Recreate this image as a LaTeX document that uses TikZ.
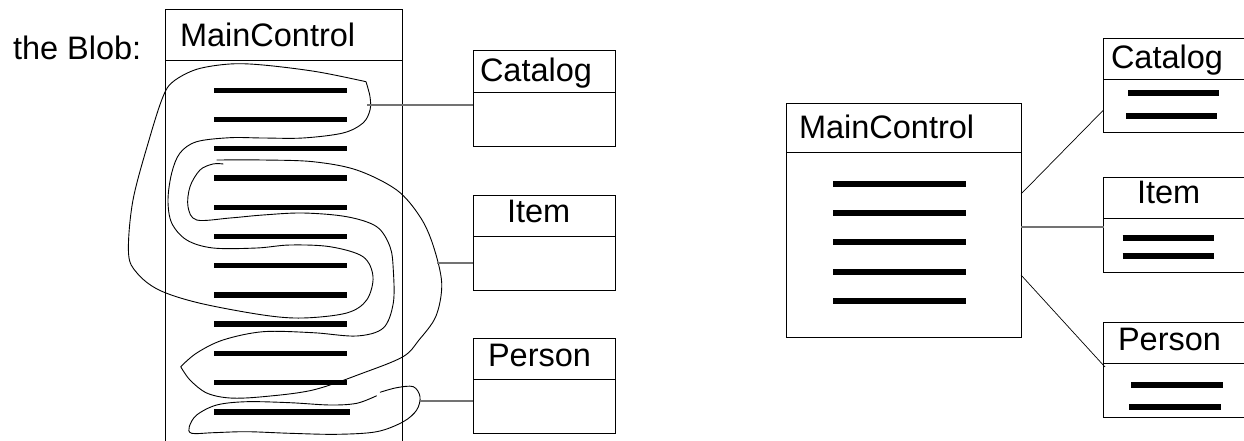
\documentclass[tikz,border=0pt]{standalone}
\usepackage{fontspec}
\setmainfont{Liberation Sans}
\begin{document}
\begin{tikzpicture}[x=1pt,y=-1pt,
  classbox/.style={draw=black, line width=1pt, inner sep=0pt, outer sep=0pt, anchor=north west},
  classname/.style={anchor=base west, inner sep=0pt, outer sep=0pt, font=\fontsize{32.5}{38}\selectfont},
  divider/.style={line width=1pt},
  attr/.style={line width=5.5pt},
  link/.style={draw=black!55, line width=1.3pt},
  thinlink/.style={draw=black, line width=0.7pt},
  blob/.style={line width=0.9pt, line join=round}
]
\useasboundingbox (0,0) rectangle (1244,441);
\clip (0,0) rectangle (1244,441);

% ---------- the Blob ----------
\node[classname] (blobtitle) at (13,60) {the Blob:};

% oversized MainControl class, running off the bottom
\draw[line width=1pt] (165,441) -- (165,9.5) -- (402,9.5) -- (402,441);
\draw[divider] (165,60.7) -- (402,60.7);
\node[classname] (mainL) at (180,46.5) {MainControl};
\foreach \y in {90.3,119.3,148.7,178,207.3,236.7,265.7,295,324,353.3,382.3}
  \draw[attr] (214,\y) -- (347,\y);
\draw[attr] (214,412) -- (350,412);

% data classes on the left
\node[classbox, minimum width=142pt, minimum height=95.5pt] (catL) at (473,51) {};
\draw[divider] (473,92.3) -- (615,92.3);
\node[classname] (catLname) at (480,82) {Catalog};

\node[classbox, minimum width=142pt, minimum height=95pt] (itemL) at (473,195) {};
\draw[divider] (473,236) -- (615,236);
\node[classname] (itemLname) at (507,222.3) {Item};

\node[classbox, minimum width=142pt, minimum height=95pt] (persL) at (473,338.3) {};
\draw[divider] (473,379.3) -- (615,379.3);
\node[classname] (persLname) at (488,366) {Person};

% hand-drawn groupings of the attributes
\draw[blob] plot[smooth, tension=0.55] coordinates {
  (366,81.7) (316.7,71.7) (263,65) (230,64) (196.7,69.3) (173,81.7) (163,96.7)
  (150,136.7) (133,200) (128.5,253) (137,273) (159,290) (199,303) (263,315)
  (303,318) (346.7,313) (366.7,300) (373,276.7) (363,256.7) (330,246.7)
  (290,245) (256.7,248) (213,248) (186.7,240) (171.7,223) (168,200) (171.7,173)
  (180,153) (196.7,141.7) (230,137.7) (263,138) (303,138) (343,133) (363,123)
  (370,110) (370,96.7) (366,81.7)};

\draw[blob] plot[smooth, tension=0.55] coordinates {
  (216.7,160) (263,160) (313,161.7) (356.7,170) (396.7,190) (420,216.7)
  (433,245) (441.7,283) (436,316) (419,340) (403,356.7) (363,373) (313,390)
  (263,396.7) (230,398) (206.7,393) (190,380) (180.7,366.7)};
\draw[blob] plot[smooth, tension=0.55] coordinates {
  (180.7,366.7) (196.7,353) (223,340) (263,331.7) (313,332.7) (356.7,336)
  (383.3,328) (393.3,303) (393.3,270) (390,246.7) (376.7,226.7) (346.7,216.7)
  (303,213) (263,215) (230,218) (196.7,220) (188,206.7) (190,186.7) (200,170)
  (213,164) (223.3,164)};

\draw[blob] plot[smooth, tension=0.55] coordinates {
  (380,392.3) (396.7,387.7) (413.3,386.7) (420,396.7) (416.7,410) (403.3,421.7)
  (376.7,431.7) (336.7,434.3) (290,433.3) (246.7,431.7) (213.3,432.7)
  (191.7,433.3) (189.3,426.7) (196.7,415) (216.7,405) (246.7,401.7)
  (290,402.7) (330,405) (356.7,403.3) (376.7,395.7)};

% links from the groupings to the data classes
\coordinate (gCat) at (367,105);
\coordinate (gItem) at (437,263);
\coordinate (gPers) at (420,401);
\draw[link] (gCat) -- (gCat -| catL.west);
\draw[link] (gItem) -- (gItem -| itemL.west);
\draw[link] (gPers) -- (gPers -| persL.west);

% ---------- refactored design ----------
\node[classbox, minimum width=235pt, minimum height=233.7pt] (mainR) at (786,103.3) {};
\draw[divider] (786,152.7) -- (1021,152.7);
\node[classname] (mainRname) at (799,138.3) {MainControl};
\foreach \y in {184,213,242,272,301}
  \draw[attr] (833,\y) -- (966,\y);

\node[classbox, minimum width=160pt, minimum height=94.7pt] (catR) at (1103.5,38.3) {};
\draw[divider] (1103.5,80) -- (1263.5,80);
\node[classname] (catRname) at (1111,68.3) {Catalog};
\draw[attr] (1128,93) -- (1219,93);
\draw[attr] (1126,116) -- (1217,116);

\node[classbox, minimum width=160pt, minimum height=95pt] (itemR) at (1103.5,177) {};
\draw[divider] (1103.5,218) -- (1263.5,218);
\node[classname] (itemRname) at (1137,203.3) {Item};
\draw[attr] (1122.6,238) -- (1214,238);
\draw[attr] (1122.6,256) -- (1214,256);

\node[classbox, minimum width=160pt, minimum height=95pt] (persR) at (1103.5,322) {};
\draw[divider] (1103.5,363) -- (1263.5,363);
\node[classname] (persRname) at (1118,350) {Person};
\draw[attr] (1131,385) -- (1223,385);
\draw[attr] (1129,407) -- (1221,407);

% associations
\coordinate (aCat) at (1021,194);
\coordinate (aItem) at (1021,227);
\coordinate (aPers) at (1021,275);
\coordinate (eCat) at (1103.5,110);
\coordinate (ePers) at (1105,367);
\draw[thinlink] (aCat) -- (eCat);
\draw[link] (aItem) -- (aItem -| itemR.west);
\draw[thinlink] (aPers) -- (ePers);
\end{tikzpicture}
\end{document}
